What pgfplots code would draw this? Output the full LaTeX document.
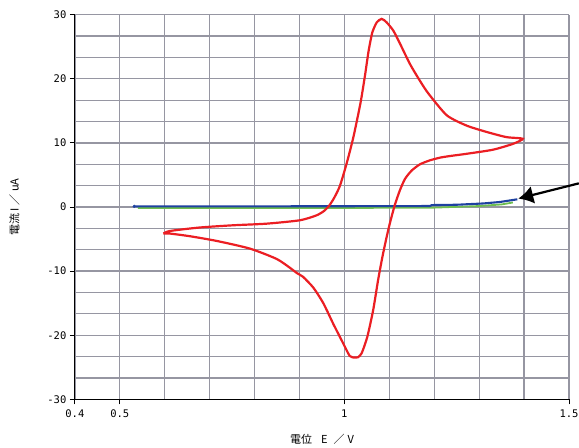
\documentclass[border=0pt]{standalone}
\usepackage{pgfplots}
\pgfplotsset{compat=1.18}
\usepackage{fontspec}
\setmainfont{Liberation Sans}
\newfontfamily\cjk{Noto Sans CJK JP}
\newfontfamily\tickfont{DejaVu Sans Mono}
\usetikzlibrary{arrows.meta}
\definecolor{gridc}{RGB}{150,150,162}
\definecolor{cvred}{RGB}{235,30,35}
\definecolor{cvblue}{RGB}{30,65,160}
\definecolor{cvgreen}{RGB}{110,190,80}
\begin{document}
\begin{tikzpicture}[x=1pt,y=1pt]
\begin{axis}[
  scale only axis, width=494.1pt, height=384.6pt,
  xmin=0.4, xmax=1.5, ymin=-30, ymax=30,
  axis x line*=bottom, axis y line*=left,
  axis line style={black, line width=1pt, -},
  xtick={0.4,0.5,0.6,0.7,0.8,0.9,1,1.1,1.2,1.3,1.4,1.5},
  xticklabels={0.4,0.5,,,,,1,,,,,1.5},
  ytick={-30,-26.6667,-23.3333,-20,-16.6667,-13.3333,-10,-6.6667,-3.3333,0,3.3333,6.6667,10,13.3333,16.6667,20,23.3333,26.6667,30},
  yticklabels={-30,,,-20,,,-10,,,0,,,10,,,20,,,30},
  extra x ticks={0.4,0.5,1,1.5}, extra x tick labels={},
  extra y ticks={-30,-20,-10,0,10,20,30}, extra y tick labels={},
  extra tick style={grid=none, major tick length=5pt},
  grid=major,
  major grid style={gridc, line width=1.3pt},
  tick align=outside, major tick length=0pt,
  tick style={black, line width=0.9pt},
  tick label style={font=\tickfont\fontsize{10.5}{12}\selectfont},
  xticklabel style={yshift=-7pt},
  yticklabel style={xshift=-5pt},
  xlabel={電位\hspace{9pt}E\hspace{6pt}／\hspace{3pt}V},
  ylabel={電流 I ／ uA},
  label style={font=\cjk\fontsize{11}{13}\selectfont},
  xlabel style={yshift=-5pt},
  ylabel style={yshift=16pt},
  clip=false,
]
\addplot[cvgreen, line width=1.8pt] coordinates {
(0.54,-0.15) (0.8,-0.15) (1.0,-0.15) (1.2,-0.1) (1.3,0.15) (1.35,0.4) (1.375,0.7)
};
\addplot[cvblue, line width=2.1pt] coordinates {
(0.532,0.1) (0.8,0.1) (1.0,0.12) (1.19,0.15) (1.195,0.3) (1.25,0.35) (1.309,0.55) (1.346,0.78) (1.385,1.2)
};
\addplot[cvblue, only marks, mark=*, mark size=1.4pt] coordinates {(0.532,0.1)};
\addplot[cvred, line width=2.2pt, smooth, tension=0.4] coordinates {
(0.597,-4.15) (0.612,-3.74) (0.678,-3.2) (0.753,-2.85) (0.827,-2.6) (0.901,-2.07)
(0.938,-1.3) (0.955,-0.6) (0.966,0.2) (0.977,1.4) (0.990,3.3) (1.005,6.8) (1.020,10.9)
(1.036,16.3) (1.046,20.6) (1.054,24.4) (1.062,27.2) (1.072,28.8) (1.083,29.35)
(1.094,28.8) (1.109,27.5) (1.124,25.45) (1.146,22.3) (1.168,19.7) (1.187,17.7)
(1.228,14.3) (1.272,12.7) (1.317,11.7) (1.361,10.9) (1.397,10.65)
(1.376,9.87) (1.331,8.94) (1.272,8.3) (1.235,7.95) (1.213,7.7) (1.190,7.27)
(1.168,6.65) (1.150,5.7) (1.135,4.4) (1.1235,2.6) (1.112,0.26) (1.101,-2.6)
(1.093,-5.0) (1.084,-8.0) (1.075,-11.4)
(1.064,-16.1) (1.051,-20.25) (1.0385,-22.8) (1.030,-23.45) (1.0236,-23.5)
(1.012,-23.25) (0.9975,-21.3) (0.975,-18.2) (0.953,-15.0) (0.931,-12.6)
(0.908,-10.9) (0.894,-10.3) (0.879,-9.5) (0.849,-8.1) (0.790,-6.5) (0.716,-5.3)
(0.656,-4.56) (0.612,-4.15) (0.597,-4.15)
};
\draw[-{Latex[length=15pt,width=18pt]}, line width=2.2pt, black]
  (axis cs:1.522,3.69) -- (axis cs:1.387,1.31);
\end{axis}
\pgfresetboundingbox
\path (current axis.south west) ++(-74.9pt,-48.7pt) coordinate (bl);
\path (current axis.north east) ++(10pt,14.7pt) coordinate (tr);
\path[use as bounding box] (bl) rectangle (tr);
\end{tikzpicture}
\end{document}
